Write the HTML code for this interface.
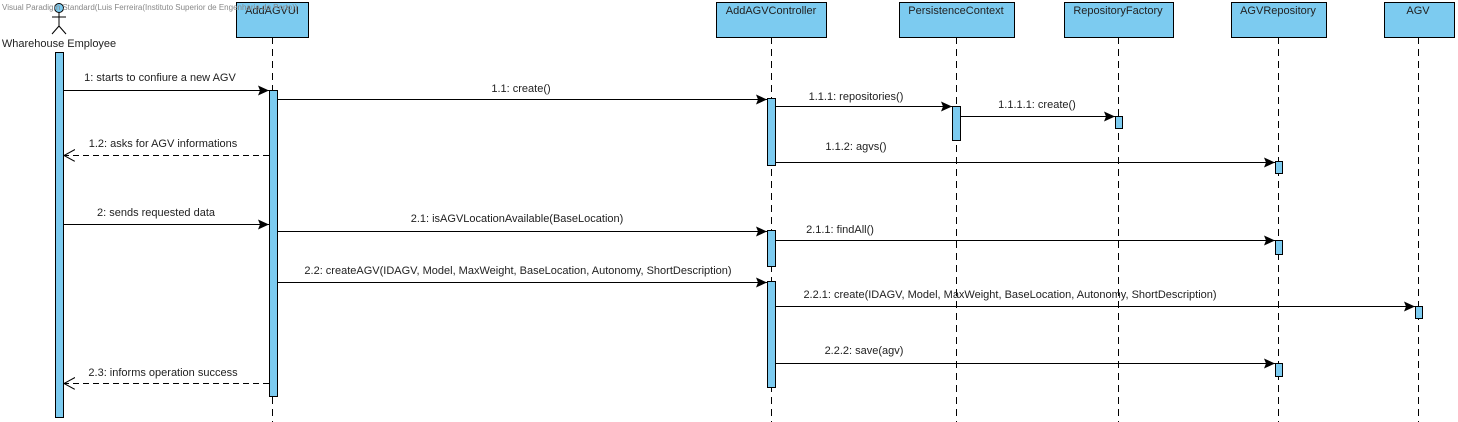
<!DOCTYPE html>
<html><head><meta charset="utf-8"><style>
html,body{margin:0;padding:0;background:#fff;width:1458px;height:422px;overflow:hidden}
svg text{font-family:"Liberation Sans",Arial,sans-serif;font-size:11px;fill:#222}
</style></head><body>
<svg width="1458" height="422" viewBox="0 0 1458 422" xmlns="http://www.w3.org/2000/svg">
<defs>
<marker id="f" markerWidth="12" markerHeight="10" refX="11" refY="5" orient="auto" markerUnits="userSpaceOnUse"><path d="M0,0 L11,5 L0,10 L2,5 z" fill="#000"/></marker>
<marker id="o" markerWidth="13" markerHeight="13" refX="11" refY="6" orient="auto" markerUnits="userSpaceOnUse"><path d="M0,0 L11,6 L0,12" fill="none" stroke="#000"/></marker>
</defs>
<g stroke="#000" stroke-dasharray="7,5" stroke-width="1">
<line x1="272.5" y1="37" x2="272.5" y2="422"/>
<line x1="771.5" y1="37" x2="771.5" y2="422"/>
<line x1="956.5" y1="37" x2="956.5" y2="422"/>
<line x1="1118.5" y1="37" x2="1118.5" y2="422"/>
<line x1="1278.5" y1="37" x2="1278.5" y2="422"/>
<line x1="1418.5" y1="37" x2="1418.5" y2="422"/>
</g>
<g fill="#7ccbf0" stroke="#000">
<rect x="236.5" y="2.5" width="72" height="35"/>
<rect x="716.5" y="2.5" width="110" height="35"/>
<rect x="899.5" y="2.5" width="115" height="35"/>
<rect x="1064.5" y="2.5" width="109" height="35"/>
<rect x="1231.5" y="2.5" width="95" height="35"/>
<rect x="1384.5" y="2.5" width="70" height="35"/>
</g>
<text x="272" y="14" text-anchor="middle">AddAGVUI</text>
<text x="771" y="14" text-anchor="middle">AddAGVController</text>
<text x="956" y="14" text-anchor="middle">PersistenceContext</text>
<text x="1118" y="14" text-anchor="middle">RepositoryFactory</text>
<text x="1278" y="14" text-anchor="middle">AGVRepository</text>
<text x="1418" y="14" text-anchor="middle">AGV</text>
<g stroke="#000" fill="none">
<circle cx="59" cy="8" r="4.5" fill="#7ccbf0"/>
<line x1="59" y1="12" x2="59" y2="26"/>
<line x1="52" y1="17" x2="66" y2="17"/>
<line x1="59" y1="26" x2="52" y2="34"/>
<line x1="59" y1="26" x2="66" y2="34"/>
</g>
<text x="2" y="10" style="font-size:8px;fill:#888">Visual Paradigm Standard(Luis Ferreira(Instituto Superior de Engenharia do Porto))</text>
<text x="59" y="47" text-anchor="middle">Wharehouse Employee</text>
<g fill="#7ccbf0" stroke="#000">
<rect x="55.5" y="52.5" width="8" height="365"/>
<rect x="269.5" y="90.5" width="8" height="306"/>
<rect x="767.5" y="98.5" width="8" height="67"/>
<rect x="767.5" y="230.5" width="8" height="36"/>
<rect x="767.5" y="281.5" width="8" height="106"/>
<rect x="952.5" y="106.5" width="8" height="34"/>
<rect x="1115.5" y="116.5" width="7" height="12"/>
<rect x="1275.5" y="161.5" width="7" height="12"/>
<rect x="1275.5" y="240.5" width="7" height="14"/>
<rect x="1275.5" y="363.5" width="7" height="13"/>
<rect x="1415.5" y="306.5" width="7" height="12"/>
</g>
<g stroke="#000" fill="none">
<line x1="63" y1="90.5" x2="269" y2="90.5" marker-end="url(#f)"/>
<line x1="278" y1="99.5" x2="767" y2="99.5" marker-end="url(#f)"/>
<line x1="776" y1="106.5" x2="952" y2="106.5" marker-end="url(#f)"/>
<line x1="961" y1="116.5" x2="1115" y2="116.5" marker-end="url(#f)"/>
<line x1="776" y1="162.5" x2="1275" y2="162.5" marker-end="url(#f)"/>
<line x1="269" y1="155.5" x2="64" y2="155.5" stroke-dasharray="6,4" marker-end="url(#o)"/>
<line x1="63" y1="224.5" x2="269" y2="224.5" marker-end="url(#f)"/>
<line x1="278" y1="231.5" x2="767" y2="231.5" marker-end="url(#f)"/>
<line x1="776" y1="240.5" x2="1275" y2="240.5" marker-end="url(#f)"/>
<line x1="278" y1="282.5" x2="767" y2="282.5" marker-end="url(#f)"/>
<line x1="776" y1="306.5" x2="1415" y2="306.5" marker-end="url(#f)"/>
<line x1="776" y1="363.5" x2="1275" y2="363.5" marker-end="url(#f)"/>
<line x1="269" y1="383.5" x2="64" y2="383.5" stroke-dasharray="6,4" marker-end="url(#o)"/>
</g>
<text x="160" y="81" text-anchor="middle">1: starts to confiure a new AGV</text>
<text x="521" y="92" text-anchor="middle">1.1: create()</text>
<text x="856" y="100" text-anchor="middle">1.1.1: repositories()</text>
<text x="1037" y="108" text-anchor="middle">1.1.1.1: create()</text>
<text x="856" y="150" text-anchor="middle">1.1.2: agvs()</text>
<text x="163" y="147" text-anchor="middle">1.2: asks for AGV informations</text>
<text x="156" y="216" text-anchor="middle">2: sends requested data</text>
<text x="517" y="222" text-anchor="middle">2.1: isAGVLocationAvailable(BaseLocation)</text>
<text x="840" y="233" text-anchor="middle">2.1.1: findAll()</text>
<text x="518" y="274" text-anchor="middle">2.2: createAGV(IDAGV, Model, MaxWeight, BaseLocation, Autonomy, ShortDescription)</text>
<text x="1010" y="298" text-anchor="middle">2.2.1: create(IDAGV, Model, MaxWeight, BaseLocation, Autonomy, ShortDescription)</text>
<text x="864" y="354" text-anchor="middle">2.2.2: save(agv)</text>
<text x="163" y="376" text-anchor="middle">2.3: informs operation success</text>
</svg>
</body></html>
